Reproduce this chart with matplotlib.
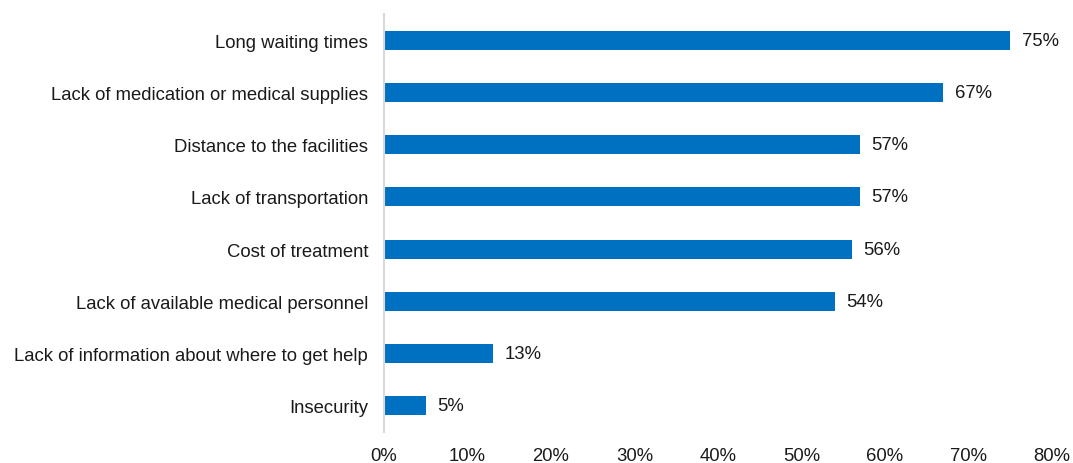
import matplotlib.pyplot as plt
from matplotlib.ticker import FuncFormatter

plt.rcParams['font.family'] = ['Liberation Sans', 'DejaVu Sans']

# barriers to accessing health care, share of respondents (%)
barriers = [
    "Long waiting times",
    "Lack of medication or medical supplies",
    "Distance to the facilities",
    "Lack of transportation",
    "Cost of treatment",
    "Lack of available medical personnel",
    "Lack of information about where to get help",
    "Insecurity",
]
shares = [75, 67, 57, 57, 56, 54, 13, 5]

fig = plt.figure(figsize=(10.73, 4.64), dpi=100)
ax = fig.add_axes([384 / 1073, 1 - 433 / 464, 668 / 1073, 418 / 464])

pos = list(range(len(barriers)))[::-1]
ax.barh(pos, shares, height=0.36, color="#0070C0")

for y, v in zip(pos, shares):
    ax.text(v + 1.4, y, f"{v}%", va="center", ha="left", fontsize=13.3, color="#1a1a1a")

ax.set_xlim(0, 80)
ax.set_ylim(-0.5, len(barriers) - 0.5)
ax.set_xticks(range(0, 81, 10))
ax.xaxis.set_major_formatter(FuncFormatter(lambda x, _: f"{x:.0f}%"))
ax.set_yticks(pos)
ax.set_yticklabels(barriers)

for side in ["top", "right", "bottom"]:
    ax.spines[side].set_visible(False)
ax.spines["left"].set_color("#D9D9D9")
ax.spines["left"].set_linewidth(1.5)

ax.tick_params(axis="both", length=0, labelsize=13.3, colors="#1a1a1a")
ax.tick_params(axis="x", pad=10.5)
ax.tick_params(axis="y", pad=11.5)

fig.savefig("out.png", dpi=100)
